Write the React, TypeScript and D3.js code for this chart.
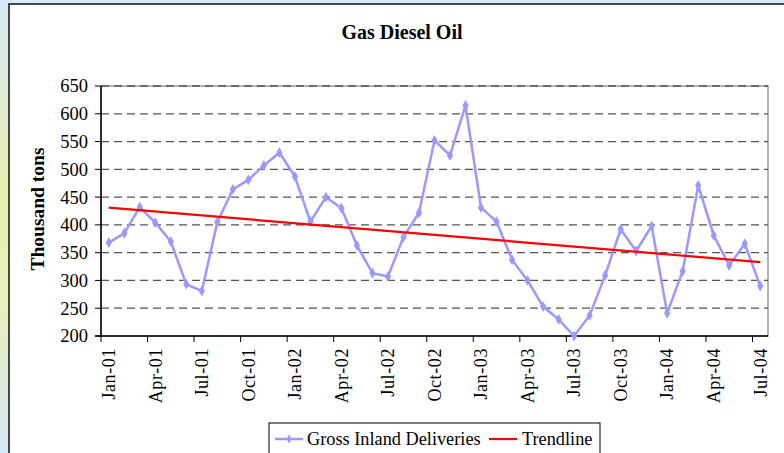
import * as d3 from 'd3';

const seriesName = 'Gross Inland Deliveries';
const trendName = 'Trendline';
const deliveries = [
  368, 385, 432, 404, 370, 293, 281, 405, 464, 481, 507, 530,
  487, 406, 450, 430, 363, 313, 307, 378, 422, 552, 525, 615,
  431, 406, 337, 300, 253, 230, 200, 237, 309, 392, 353, 398,
  241, 317, 471, 381, 327, 366, 290,
];
const months = d3.timeMonth.range(new Date(2001, 0, 1), new Date(2004, 7, 1));
const tickLabels = [
  'Jan-01', 'Apr-01', 'Jul-01', 'Oct-01', 'Jan-02', 'Apr-02', 'Jul-02', 'Oct-02',
  'Jan-03', 'Apr-03', 'Jul-03', 'Oct-03', 'Jan-04', 'Apr-04', 'Jul-04',
];
const trendEnds = [431, 333];
const yTicks = [200, 250, 300, 350, 400, 450, 500, 550, 600, 650];

const W = 784;
const H = 453;
const font = '"Liberation Serif", "Times New Roman", serif';

export default function App() {
  const left = 101, right = 768, top = 86, bottom = 336;
  const x = d3.scaleBand<number>().domain(d3.range(months.length)).range([left, right]);
  const cx = (i: number) => x(i)! + x.bandwidth() / 2;
  const y = d3.scaleLinear().domain([200, 650]).range([bottom, top]);

  const line = d3.line<number>().x((_, i) => cx(i)).y(d => y(d));
  const diamond = d3.symbol().type(d3.symbolDiamond).size(34)();
  const tickIdx = d3.range(0, months.length, 3);

  return (
    <svg width={W} height={H} style={{ position: 'absolute', left: 0, top: 0 }}>
      <defs>
        <linearGradient id="bg" x1="0" y1="0" x2="0" y2="1">
          <stop offset="0" stopColor="#d6eaf7" />
          <stop offset="0.4" stopColor="#e6eeb4" />
          <stop offset="0.65" stopColor="#e9efb8" />
          <stop offset="1" stopColor="#d5e9f6" />
        </linearGradient>
      </defs>
      <rect width={W} height={H} fill="url(#bg)" />
      <rect x={9} y={4} width={W} height={H} fill="#fff" stroke="#111" strokeWidth={1.5} />

      <text x={402} y={39} textAnchor="middle" fontFamily={font} fontWeight="bold" fontSize={20}>
        Gas Diesel Oil
      </text>

      {/* plot frame */}
      <rect x={left} y={top} width={right - left} height={bottom - top} fill="none" stroke="#9a9a9a" strokeWidth={1.5} />

      {yTicks.map(t => (
        <g key={t}>
          {t > 200 && (
            <line x1={left} x2={right} y1={y(t)} y2={y(t)} stroke="#555" strokeWidth={1.3} strokeDasharray="8,5" />
          )}
          <line x1={95} x2={left} y1={y(t)} y2={y(t)} stroke="#000" />
          <text x={88} y={y(t)} dy="0.35em" textAnchor="end" fontFamily={font} fontSize={18.5}>{t}</text>
        </g>
      ))}

      <line x1={left} x2={left} y1={top} y2={bottom} stroke="#000" strokeWidth={1.5} />
      <line x1={95} x2={right} y1={bottom} y2={bottom} stroke="#000" strokeWidth={1.5} />

      {tickIdx.map((i, k) => (
        <g key={i}>
          <line x1={x(i)!} x2={x(i)!} y1={bottom} y2={bottom + 6} stroke="#000" />
          <text
            transform={`translate(${cx(i)},${bottom + 12}) rotate(-90)`}
            dy="0.35em"
            textAnchor="end"
            fontFamily={font}
            fontSize={18}
            letterSpacing={0.6}
          >
            {tickLabels[k]}
          </text>
        </g>
      ))}

      <text
        transform={`translate(37,${(top + bottom) / 2 - 2}) rotate(-90)`}
        dy="0.35em"
        textAnchor="middle"
        fontFamily={font}
        fontWeight="bold"
        fontSize={19.5}
      >
        Thousand tons
      </text>

      <path d={line(deliveries)!} fill="none" stroke="#9999ff" strokeWidth={2.5} />
      {deliveries.map((v, i) => (
        <path key={i} d={diamond} transform={`translate(${cx(i)},${y(v)})`} fill="#9999ff" />
      ))}

      <line
        x1={cx(0)} x2={cx(months.length - 1)}
        y1={y(trendEnds[0])} y2={y(trendEnds[1])}
        stroke="#ff0000" strokeWidth={2.2}
      />

      {/* legend */}
      <rect x={269} y={423} width={331} height={40} fill="#fff" stroke="#000" strokeWidth={1} />
      <line x1={275} x2={303} y1={439} y2={439} stroke="#9999ff" strokeWidth={2.5} />
      <path d={d3.symbol().type(d3.symbolDiamond).size(24)()!} transform="translate(289,439)" fill="#9999ff" />
      <text x={307} y={439} dy="0.35em" fontFamily={font} fontSize={18.3}>{seriesName}</text>
      <line x1={489} x2={517} y1={439} y2={439} stroke="#ff0000" strokeWidth={2.2} />
      <text x={522} y={439} dy="0.35em" fontFamily={font} fontSize={18.3}>{trendName}</text>
    </svg>
  );
}
